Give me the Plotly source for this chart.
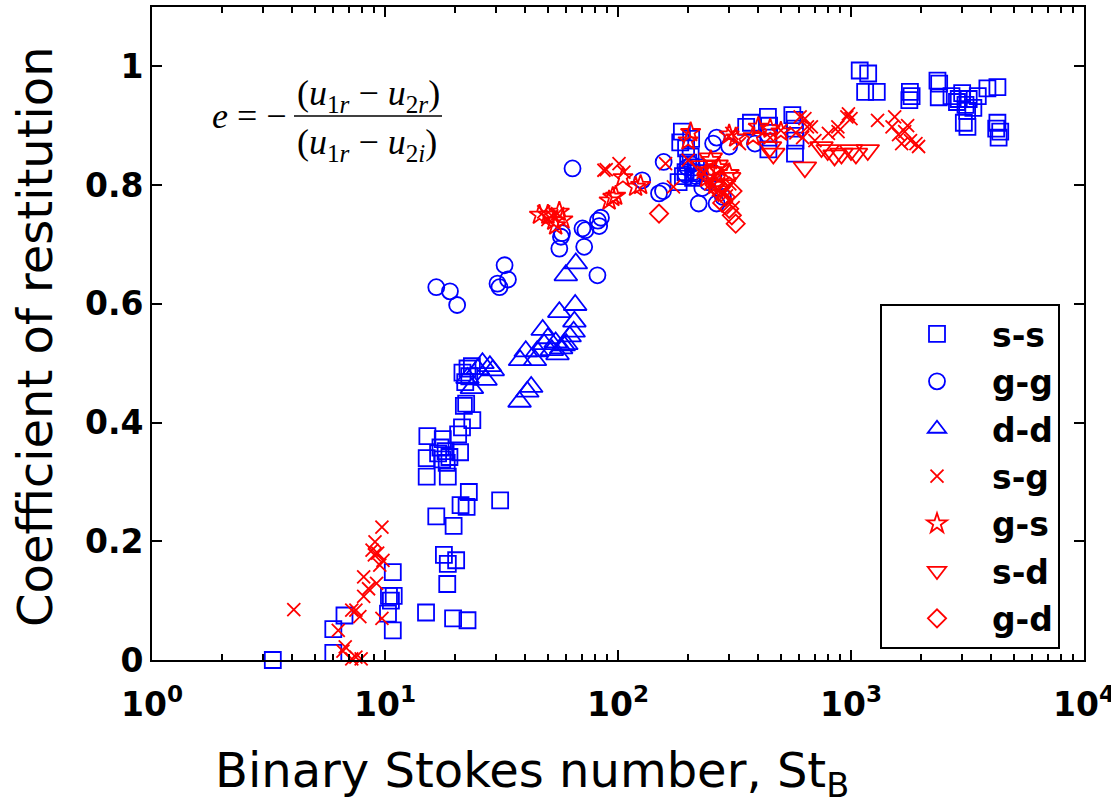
import plotly.graph_objects as go

# ---------------- data ----------------
ss_x = [3.3, 6.0, 6.0, 6.7, 10.8, 10.4, 10.9, 10.6, 10.3, 10.8, 15.0, 19.6, 22.6, 18.5, 17.9, 18.6, 20.2,
        16.6, 19.7, 21.1, 22.4, 22.9, 31.2, 15.1, 18.6, 15.2, 17.7, 15.1, 16.9, 17.6, 18.2, 18.9, 17.3,
        18.4, 20.6, 21.0, 21.4, 23.7, 22.3, 21.8, 22.6, 21.5, 23.0, 22.1, 23.6,
        185, 188, 182, 195, 200, 210, 216, 205, 222, 190, 196, 206, 355, 372, 442, 442, 445, 440,
        575, 578, 575, 572, 560,
        1090, 1185, 1150, 1290, 1780, 1790, 1820, 2350, 2390, 2380, 2700, 2850, 3000, 3100, 3200,
        3350, 3500, 2900, 3150, 3850, 4250, 3160, 3050, 4250, 4370, 4300, 4200]
ss_y = [0.0, 0.012, 0.052, 0.075, 0.148, 0.108, 0.108, 0.100, 0.078, 0.050, 0.080, 0.070, 0.067, 0.128,
        0.177, 0.162, 0.168, 0.242, 0.226, 0.261, 0.258, 0.283, 0.269, 0.309, 0.309, 0.377, 0.372,
        0.340, 0.348, 0.338, 0.352, 0.342, 0.358, 0.332, 0.380, 0.350, 0.392, 0.404, 0.432, 0.428,
        0.491, 0.484, 0.478, 0.468, 0.495,
        0.872, 0.890, 0.805, 0.822, 0.838, 0.812, 0.830, 0.848, 0.820, 0.815, 0.862, 0.878, 0.898,
        0.905, 0.860, 0.880, 0.900, 0.915, 0.853, 0.875, 0.895, 0.910, 0.918,
        0.993, 0.988, 0.957, 0.957, 0.943, 0.957, 0.950, 0.976, 0.971, 0.948, 0.950, 0.940, 0.955,
        0.935, 0.945, 0.930, 0.950, 0.945, 0.925, 0.963, 0.965, 0.898, 0.905, 0.905, 0.890, 0.880, 0.895]

gg_x = [16.6, 19.0, 20.4, 32.6, 33.7, 31.0, 30.4, 63.8, 56.9, 56.0, 71.6, 70.4, 83.0, 84.5, 82.0, 81.6,
        57.5, 72.5, 127, 150, 156, 157, 256, 222, 265, 258, 265, 387, 198, 212, 230, 242, 282, 300,
        195, 207, 216]
gg_y = [0.628, 0.621, 0.598, 0.665, 0.641, 0.628, 0.634, 0.828, 0.713, 0.693, 0.696, 0.727, 0.731,
        0.745, 0.740, 0.648, 0.719, 0.724, 0.808, 0.786, 0.790, 0.839, 0.870, 0.769, 0.880, 0.820,
        0.769, 0.870, 0.830, 0.822, 0.795, 0.805, 0.780, 0.865, 0.818, 0.835, 0.815]

dd_x = [22.6, 23.6, 25.0, 26.2, 27.0, 28.2, 29.0, 38.0, 40.2, 37.8, 42.4, 40.8, 45.0, 47.5, 48.2, 50.0,
        52.0, 54.0, 56.0, 57.0, 58.5, 64.5, 65.0, 65.5, 59.7, 65.9, 55.0, 62.0, 60.0, 44.0]
dd_y = [0.475, 0.458, 0.490, 0.500, 0.472, 0.495, 0.488, 0.505, 0.520, 0.435, 0.460, 0.452, 0.520,
        0.556, 0.532, 0.542, 0.522, 0.535, 0.586, 0.525, 0.530, 0.553, 0.570, 0.598, 0.648, 0.668,
        0.515, 0.545, 0.532, 0.505]

sg_x = [4.06, 9.7, 9.06, 9.0, 9.8, 8.8, 9.3, 8.1, 9.2, 8.1, 7.5, 7.8, 9.7, 6.3, 6.75, 6.6, 7.2, 7.5, 7.9,
        7.2, 8.5, 9.5,
        48, 52, 55, 50, 87, 101, 106, 160, 173, 89, 200, 232, 250, 270, 292, 312, 282, 302, 308, 332,
        605, 650, 700, 800, 960, 634, 676, 878, 975, 1000, 880, 1300, 1540, 1500, 1600, 1700, 1800,
        1900, 1950, 1650, 1750, 450, 500, 620, 580]
sg_y = [0.085, 0.224, 0.199, 0.177, 0.168, 0.185, 0.180, 0.140, 0.129, 0.107, 0.084, 0.073, 0.070,
        0.050, 0.022, 0.015, 0.002, 0.005, 0.002, 0.084, 0.120, 0.160,
        0.755, 0.748, 0.752, 0.742, 0.825, 0.836, 0.822, 0.836, 0.797, 0.826, 0.842, 0.822, 0.802,
        0.792, 0.782, 0.762, 0.822, 0.802, 0.887, 0.870, 0.915, 0.898, 0.875, 0.887, 0.915, 0.912,
        0.898, 0.898, 0.920, 0.912, 0.890, 0.909, 0.915, 0.898, 0.885, 0.890, 0.875, 0.870, 0.865,
        0.870, 0.900, 0.880, 0.892, 0.880, 0.888]

gs_x = [50, 53, 56, 58, 54, 46, 91.6, 95, 97.7, 105, 119, 125, 205, 200, 400, 380, 250, 270, 300, 240,
        450, 500, 300, 320, 260]
gs_y = [0.750, 0.740, 0.755, 0.742, 0.732, 0.750, 0.774, 0.780, 0.782, 0.813, 0.797, 0.800, 0.889,
        0.875, 0.898, 0.882, 0.842, 0.830, 0.820, 0.812, 0.895, 0.890, 0.885, 0.880, 0.800]

sd_x = [265, 250, 280, 300, 270, 230, 449, 464, 634, 747, 910, 1000, 1050, 1180, 794, 850, 250]
sd_y = [0.833, 0.822, 0.800, 0.812, 0.790, 0.832, 0.864, 0.853, 0.830, 0.864, 0.853, 0.859, 0.853,
        0.859, 0.859, 0.850, 0.845]

gd_x = [150, 308, 320, 280, 300, 290, 310, 275, 260, 240]
gd_y = [0.752, 0.749, 0.735, 0.770, 0.760, 0.780, 0.790, 0.796, 0.800, 0.820]

x_major = [1, 10, 100, 1000, 10000]
x_labels = ["10<sup>0</sup>", "10<sup>1</sup>", "10<sup>2</sup>", "10<sup>3</sup>", "10<sup>4</sup>"]
x_minor_mult = [2, 3, 4, 5, 6, 7, 8, 9]
y_major = [0, 0.2, 0.4, 0.6, 0.8, 1.0]
y_labels = ["0", "0.2", "0.4", "0.6", "0.8", "1"]

BLUE = "#0000FF"
RED = "#FF0000"

series = [
    ("s-s", ss_x, ss_y, "square-open", BLUE, 16),
    ("g-g", gg_x, gg_y, "circle-open", BLUE, 16),
    ("d-d", dd_x, dd_y, "triangle-up-open", BLUE, 20),
    ("s-g", sg_x, sg_y, "x-thin-open", RED, 13),
    ("g-s", gs_x, gs_y, "star-open", RED, 15),
    ("s-d", sd_x, sd_y, "triangle-down-open", RED, 20),
    ("g-d", gd_x, gd_y, "diamond-open", RED, 14),
]

fig = go.Figure()
for name, xs, ys, sym, col, sz in series:
    fig.add_trace(go.Scatter(
        x=xs, y=ys, mode="markers", name=name, legendgroup=name, cliponaxis=False,
        marker=dict(symbol=sym, size=sz, color=col, line=dict(color=col, width=1.8)),
    ))

minor_vals = [m * d for d in [1, 10, 100, 1000] for m in x_minor_mult]

axis_common = dict(showline=True, linecolor="black", linewidth=2, mirror="ticks",
                   ticks="inside", tickcolor="black", tickwidth=1.5, showgrid=False,
                   zeroline=False, ticklabeloverflow="allow", automargin=False,
                   tickfont=dict(family="DejaVu Sans", size=33, color="black", weight="bold"))

fig.update_xaxes(type="log", range=[0, 4], tickmode="array", tickvals=x_major, ticktext=x_labels,
                 ticklen=10, ticklabelstandoff=14,
                 minor=dict(tickmode="array", tickvals=minor_vals, ticks="inside", ticklen=6,
                            tickcolor="black", tickwidth=1.5, showgrid=False),
                 **axis_common)
fig.update_yaxes(range=[0, 1.1], tickmode="array", tickvals=y_major, ticktext=y_labels,
                 ticklen=10, **axis_common)

# plot-area geometry used to place text in paper coordinates
L, R, T, B = 152, 1084, 7, 660
def px(xp):
    return (xp - L) / (R - L)
def py(yp):
    return (B - yp) / (B - T)

serif = dict(family="Liberation Serif, Times New Roman, serif", size=36, color="black")
annotations = [
    dict(text="<i>e</i> = −", x=px(289), y=py(116), xref="paper", yref="paper",
         xanchor="right", yanchor="middle", showarrow=False, font=serif),
    dict(text="(<i>u</i><sub>1<i>r</i></sub> − <i>u</i><sub>2<i>r</i></sub>)", x=px(368), y=py(95),
         xref="paper", yref="paper", xanchor="center", yanchor="middle", showarrow=False, font=serif),
    dict(text="(<i>u</i><sub>1<i>r</i></sub> − <i>u</i><sub>2<i>i</i></sub>)", x=px(367), y=py(145),
         xref="paper", yref="paper", xanchor="center", yanchor="middle", showarrow=False, font=serif),
    dict(text="Binary Stokes number, St<sub>B</sub>", x=px(532), y=py(773), xref="paper", yref="paper",
         xanchor="center", yanchor="middle", showarrow=False,
         font=dict(family="DejaVu Sans", size=48, color="black")),
    dict(text="Coefficient of restitution", x=px(35), y=py(337), xref="paper", yref="paper",
         xanchor="center", yanchor="middle", textangle=-90, showarrow=False,
         font=dict(family="DejaVu Sans", size=48, color="black")),
]

fig.add_shape(type="line", xref="paper", yref="paper", x0=px(294), x1=px(442), y0=py(116), y1=py(116),
              line=dict(color="black", width=1.5))

fig.update_layout(
    width=1111, height=802,
    margin=dict(l=L, r=1111 - R, t=T, b=802 - B, autoexpand=False),
    paper_bgcolor="white", plot_bgcolor="white",
    annotations=annotations,
    legend=dict(x=px(880), y=py(304), xanchor="left", yanchor="top",
                bordercolor="black", borderwidth=2, bgcolor="white",
                itemwidth=100, tracegroupgap=1.5, traceorder="grouped",
                font=dict(family="DejaVu Sans", size=33, color="black", weight="bold")),
)

fig.write_html("out.html", config={"displayModeBar": False},
               post_script="document.body.style.margin='0';document.body.style.padding='0';")
